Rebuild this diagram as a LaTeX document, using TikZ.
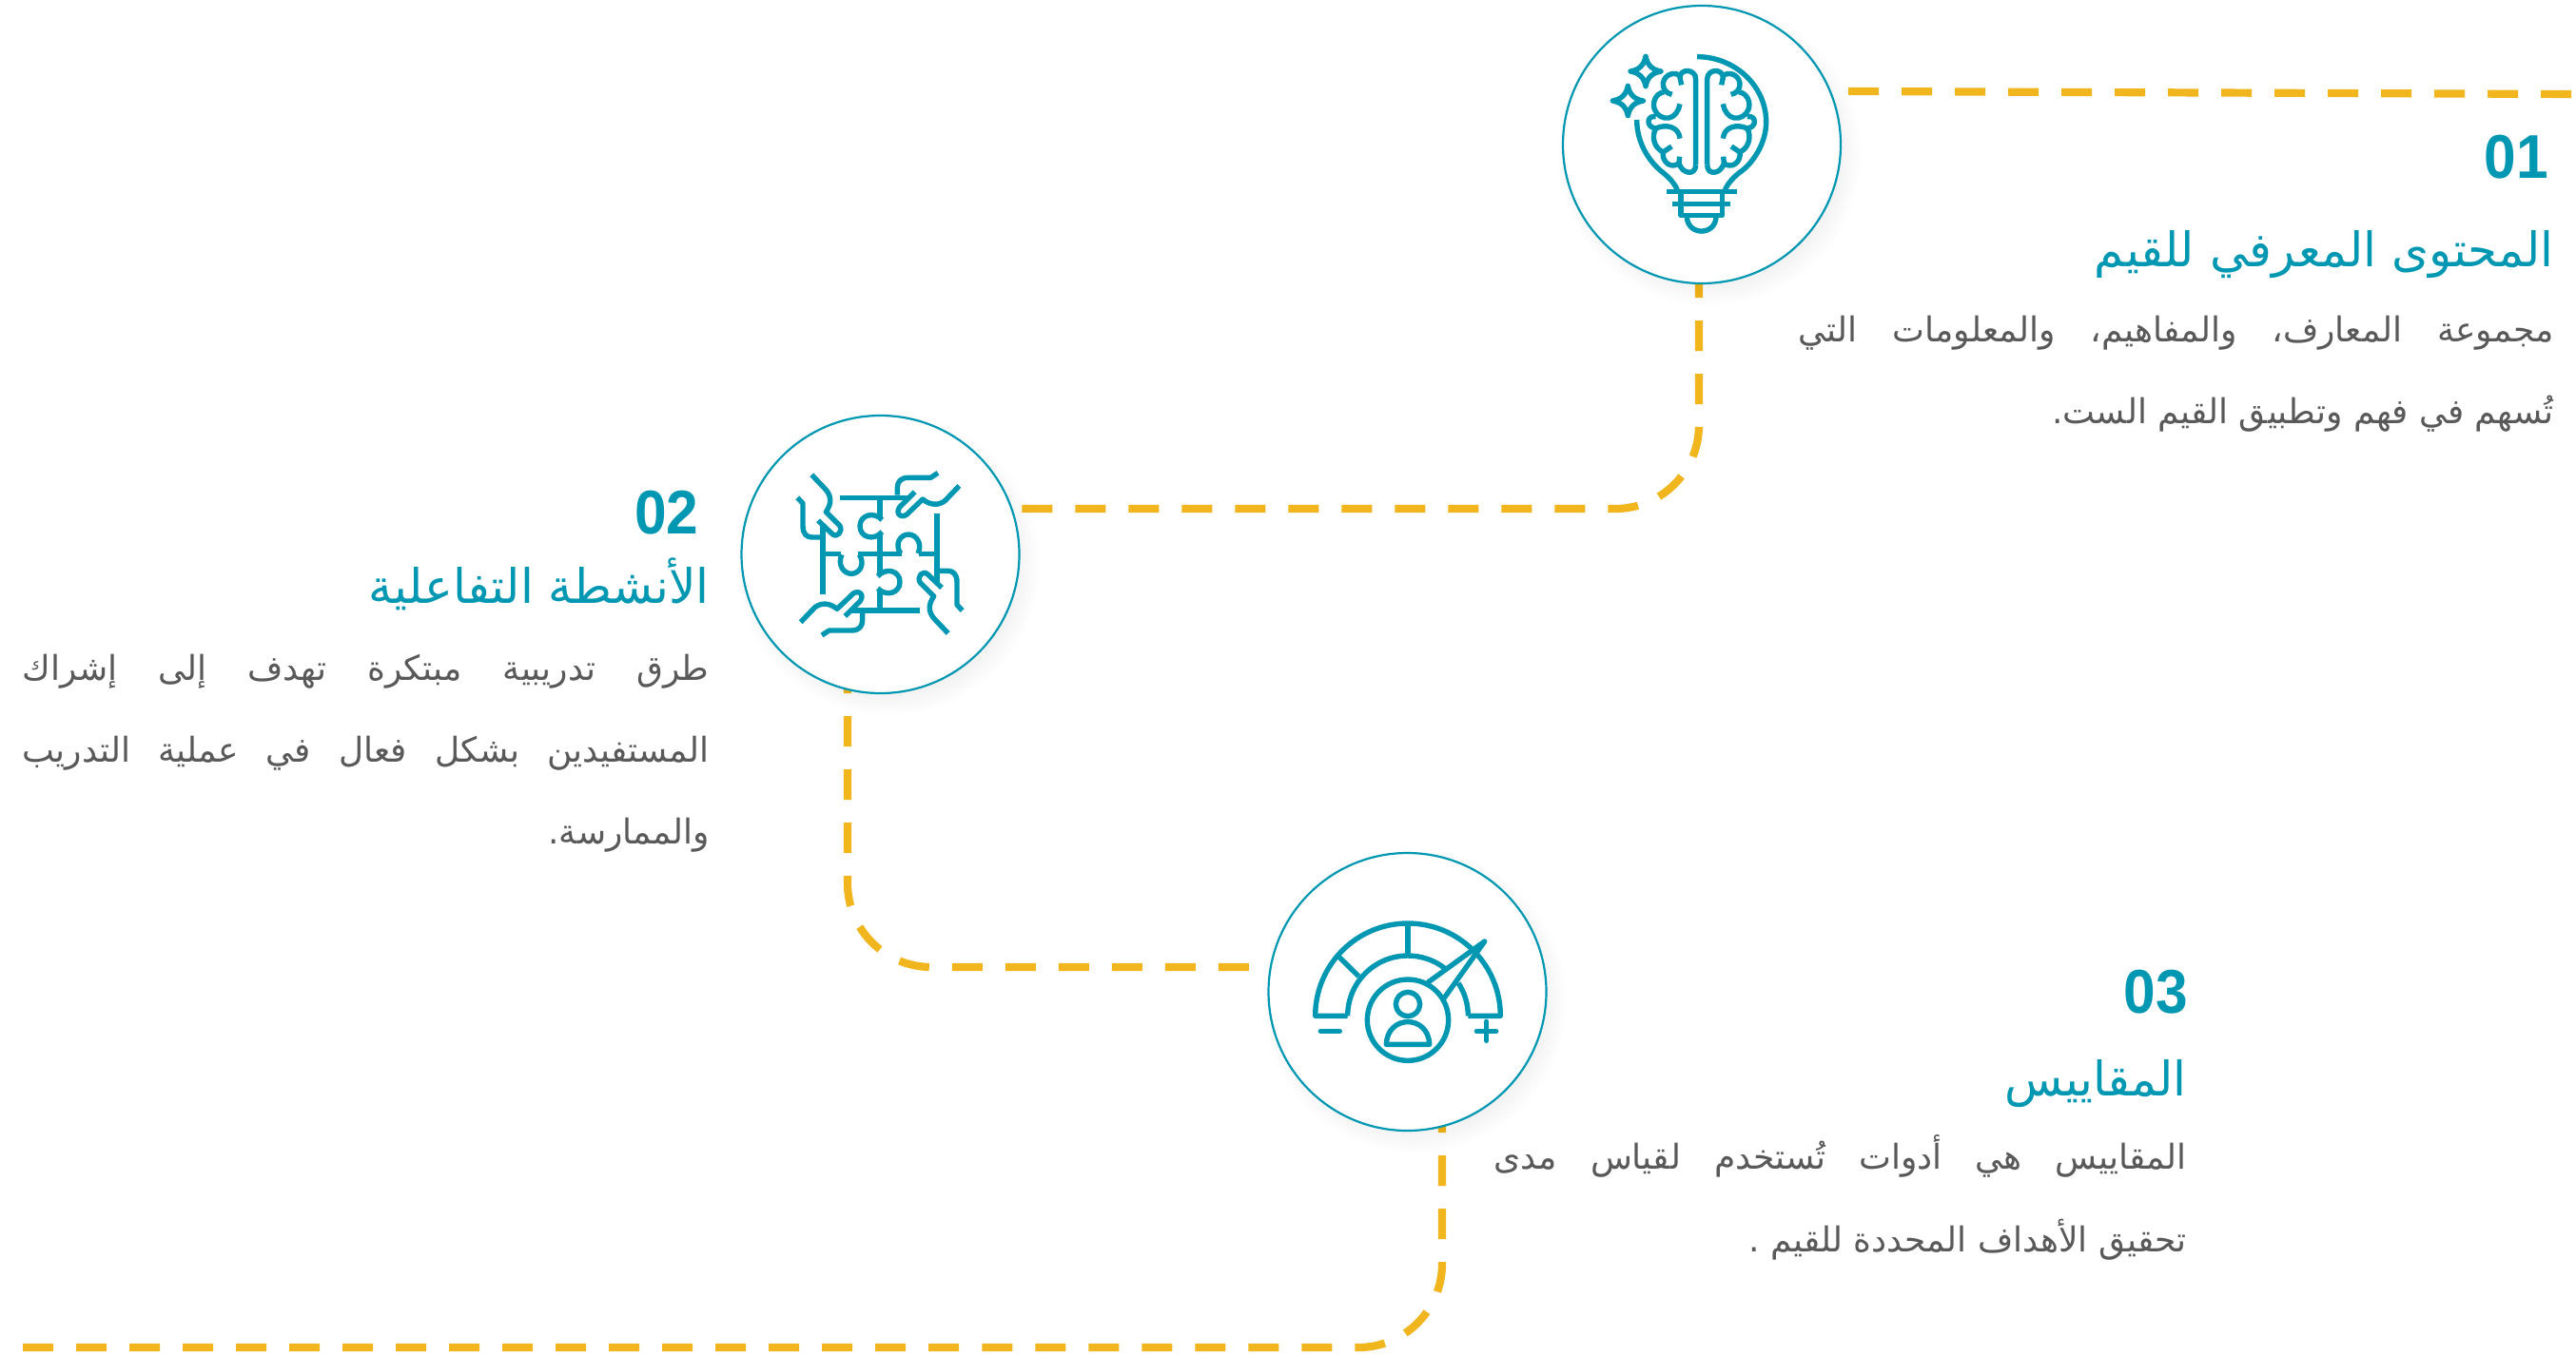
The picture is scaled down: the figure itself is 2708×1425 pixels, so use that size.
\documentclass[tikz,border=0pt]{standalone}
\usepackage{fontspec}
\setmainfont{Liberation Sans}
\newfontfamily\arabicfont[Script=Arabic]{DejaVu Sans}
\TeXXeTstate=1
\usetikzlibrary{calc}
\definecolor{teal}{HTML}{0097B2}
\definecolor{bodygray}{HTML}{595959}
\definecolor{dashyellow}{HTML}{F1B61E}
\tikzset{
  x=0.5pt,y=-0.5pt,
  circ/.style={circle,draw=teal,line width=1.1pt,fill=white,minimum size=146pt,inner sep=0pt,outer sep=0pt},
  conn/.style={draw=dashyellow,line width=4.1pt,dash pattern=on 16pt off 12pt},
  icon/.style={draw=teal,line width=2.7pt,line join=round},
  num/.style={anchor=base east,inner sep=0pt,text=teal,font=\bfseries\fontsize{32.5}{33}\selectfont},
  ttl/.style={anchor=base east,inner sep=0pt,text=teal,font=\arabicfont\fontsize{25}{28}\selectfont},
  bod/.style={anchor=base east,inner sep=0pt,text=bodygray,font=\arabicfont\fontsize{18}{20}\selectfont},
}
\newcommand{\shadowdisc}[2]{%
  \foreach \rr in {160,158,...,134}{\fill[black,opacity=.004] (#1+8,#2+10) circle[radius=\rr];}}
\begin{document}
\begin{tikzpicture}
\useasboundingbox (0,0) rectangle (2708,1425);
\fill[white] (0,0) rectangle (2708,1425);
% connectors first, discs on top
\coordinate (s1) at (1943,96);
\coordinate (e1) at (2708,99);
\coordinate (s2) at (1786,281);
\coordinate (e2) at (1072,535);
\coordinate (s3) at (891,697);
\coordinate (e3) at (1313,1017);
\coordinate (s4) at (1516,1159);
\coordinate (e4) at (22,1417);
\path[conn] (s1) -- (e1);
\path[conn,rounded corners=44pt] (s2) -- (s2 |- e2) -- (e2);
\path[conn,rounded corners=44pt] (s3) -- (s3 |- e3) -- (e3);
\path[conn,rounded corners=44pt] (s4) -- (s4 |- e4) -- (e4);
\shadowdisc{1789}{152}
\shadowdisc{925.5}{583}
\shadowdisc{1479.5}{1043}
\node[circ] (c1) at (1789,152) {};
\node[circ] (c2) at (925.5,583) {};
\node[circ] (c3) at (1479.5,1043) {};
% icon 1
\begin{scope}[shift={(1620,0)},scale=1/3]
\path[icon] (492,179) .. controls (610,179) and (710,270) .. (710,385) .. controls (710,450) and (670,515) .. (625,545) .. controls (600,565) and (585,585) .. (578,605);
\path[icon] (302,378) .. controls (302,450) and (340,510) .. (385,545) .. controls (410,565) and (425,585) .. (432,605);
\path[icon] (395,605) -- (617,605);
\path[icon] (415,643) -- (598,643);
\path[icon] (441,605) -- (441,680) -- (572,680) -- (572,605);
\path[icon] (460,682) .. controls (460,745) and (552,745) .. (552,682);
\path[icon,line cap=round] (330,178) .. controls (335,205) and (350,220) .. (378,225) .. controls (350,230) and (335,245) .. (330,272) .. controls (325,245) and (310,230) .. (282,225) .. controls (310,220) and (325,205) .. (330,178) -- cycle;
\path[icon,line cap=round] (274,271) .. controls (279,298) and (294,313) .. (322,318) .. controls (294,323) and (279,338) .. (274,365) .. controls (269,338) and (254,323) .. (226,318) .. controls (254,313) and (269,298) .. (274,271) -- cycle;
\foreach \sc/\sh in {1/0,-1/1012}{
\begin{scope}[shift={(\sh,0)},xscale=\sc]
\path[icon] (488,520) -- (488,250) .. controls (488,216) and (438,215) .. (438,245) -- (443,268);
\path[icon] (438,240) .. controls (425,225) and (390,232) .. (385,262) .. controls (383,280) and (395,295) .. (413,298);
\path[icon] (388,290) .. controls (360,295) and (350,325) .. (358,345) .. controls (365,365) and (385,375) .. (403,372) .. controls (420,370) and (435,350) .. (438,328);
\path[icon] (362,368) .. controls (332,362) and (330,402) .. (362,405) .. controls (395,390) and (435,400) .. (438,437);
\path[icon] (362,405) .. controls (348,430) and (355,465) .. (385,480);
\path[icon] (412,462) -- (385,480) .. controls (380,510) and (410,535) .. (435,515);
\path[icon] (437,494) -- (435,515) .. controls (445,550) and (488,555) .. (488,520);
\end{scope}}
\end{scope}
% icon 2
\begin{scope}[shift={(770,430)},scale=1/3]
\foreach \ang in {0,180}{
\begin{scope}[rotate around={\ang:(465,458)}]
\path[icon] (340,280) -- (560,280);
\path[icon] (465,280) -- (465,345);
\path[icon] (472,350) .. controls (445,322) and (402,335) .. (402,370) .. controls (402,405) and (445,418) .. (472,388);
\path[icon] (465,392) -- (465,458);
\path[icon] (285,365) -- (285,585);
\path[icon] (285,458) -- (342,458);
\path[icon] (345,460) .. controls (330,490) and (350,520) .. (375,520) .. controls (400,520) and (420,490) .. (400,460);
\path[icon] (395,458) -- (465,458);
\path[icon] (250,208) -- (290,250) .. controls (315,275) and (312,300) .. (295,325) -- (338,368) .. controls (350,385) and (330,412) .. (312,392) -- (270,352);
\path[icon] (205,280) -- (222,298) -- (222,370) .. controls (222,395) and (235,405) .. (250,405) -- (285,405);
\path[icon] (648,202) -- (625,217) -- (555,217) .. controls (530,217) and (520,230) .. (520,250) -- (520,272);
\path[icon] (575,262) -- (527,310) .. controls (510,335) and (540,350) .. (558,325) -- (600,285) .. controls (625,305) and (650,305) .. (670,290) -- (715,243);
\end{scope}}
\end{scope}
% icon 3
\begin{scope}[shift={(1320,890)},scale=1/3]
\path[icon] (290,535) -- (188,535) arc[start angle=180,end angle=360,radius=292] -- (670,535);
\path[icon] (290,535) arc[start angle=180,end angle=308,radius=190];
\path[icon] (670,535) arc[start angle=360,end angle=327,radius=190];
\path[icon] (480,243) -- (480,343);
\path[icon] (262,348) -- (325,410);
\path[icon] (480,548) circle[radius=128];
\path[icon] (480,498) circle[radius=38];
\path[icon] (412,625) -- (548,625) .. controls (545,530) and (415,530) .. (412,625) -- cycle;
\path[icon,line cap=round] (205,583) -- (265,583);
\path[icon,line cap=round] (697,583) -- (758,583);
\path[icon,line cap=round] (728,553) -- (728,613);
\path[icon,line cap=round] (545,428) -- (722,300) -- (595,478);
\end{scope}
% texts
\node[num] (n1) at (2679,187) {\scalebox{.93}[1]{01}};
\node[ttl] (t1) at (2685,280) {\beginR المحتوى المعرفي للقيم\endR};
\node[bod] (b1a) at (2685,359) {\hbox to 397pt{\beginR مجموعة المعارف، والمفاهيم، والمعلومات التي\endR}};
\node[bod] (b1b) at (2685,445) {\beginR تُسهم في فهم وتطبيق القيم الست.\endR};
\node[num] (n2) at (735,561) {\scalebox{.93}[1]{02}};
\node[ttl] (t2) at (746,634) {\beginR الأنشطة التفاعلية\endR};
\node[bod] (b2a) at (746,715) {\hbox to 361pt{\beginR طرق تدريبية مبتكرة تهدف إلى إشراك\endR}};
\node[bod] (b2b) at (746,801) {\hbox to 361pt{\beginR المستفيدين بشكل فعال في عملية التدريب\endR}};
\node[bod] (b2c) at (746,887) {\beginR والممارسة.\endR};
\node[num] (n3) at (2300,1065) {\scalebox{.93}[1]{03}};
\node[ttl] (t3) at (2299,1152) {\beginR المقاييس\endR};
\node[bod] (b3a) at (2299,1229) {\hbox to 364pt{\beginR المقاييس هي أدوات تُستخدم لقياس مدى\endR}};
\node[bod] (b3b) at (2299,1316) {\beginR تحقيق الأهداف المحددة للقيم .\endR};
\end{tikzpicture}
\end{document}
